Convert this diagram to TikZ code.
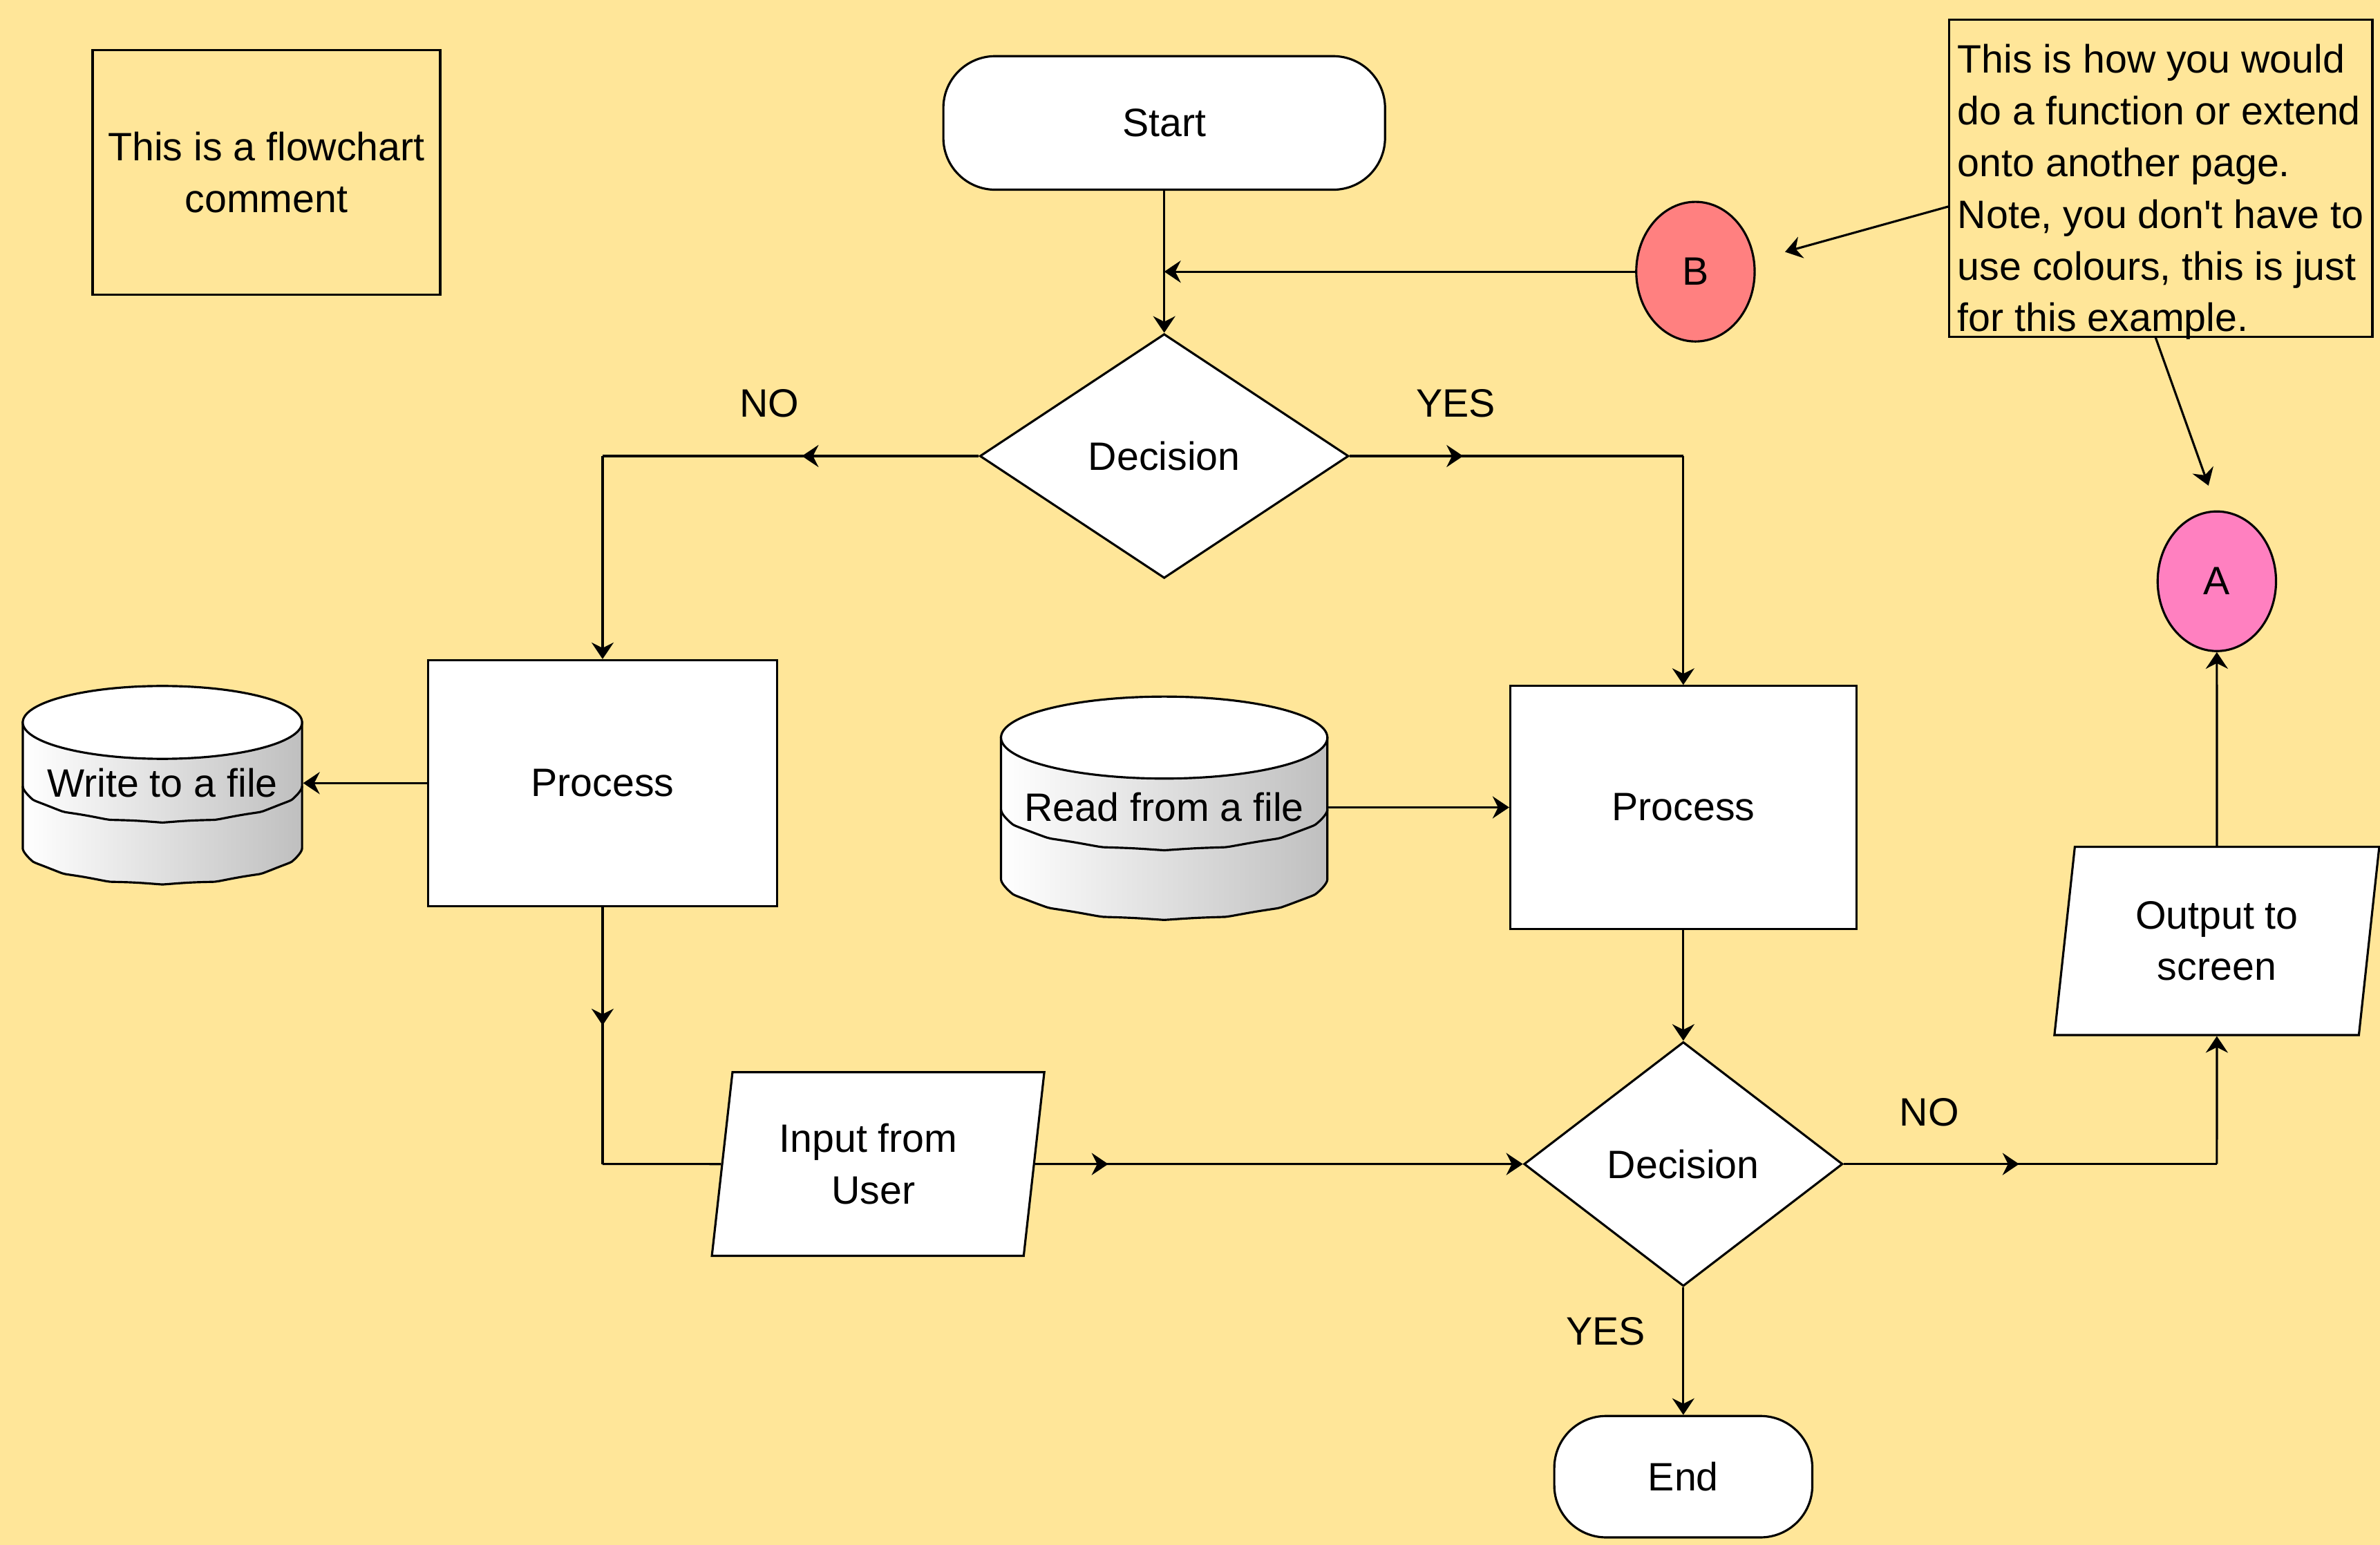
\documentclass[tikz,border=0pt]{standalone}
\usepackage{fontspec}
\setmainfont{Liberation Sans}
\usetikzlibrary{shapes.geometric, arrows.meta, decorations.markings}

\definecolor{paper}{RGB}{255,230,153}
\definecolor{linkB}{RGB}{255,128,128}
\definecolor{linkA}{RGB}{255,128,192}

\newcommand\pxu{0.2196mm}

% a disk store: centre x, centre y of the lid, half width, lid depth
\newcommand\diskstore[4]{%
  \begin{scope}[shift={(#1,#2)}, line width=0.9pt]
    \shade[left color=white, right color=black!25, draw]
      (-#3,0) -- plot[domain=0:180, samples=91]
        ({-#3*cos(\x)}, {3.45*#4 + #4*sin(\x) - 0.8*abs(sin(8*\x))})
      -- (#3,0) -- cycle;
    \draw[fill=white] (0,0) ellipse [x radius=#3, y radius=#4];
    \draw plot[domain=0:180, samples=91]
      ({-#3*cos(\x)}, {1.75*#4 + #4*sin(\x) - 0.8*abs(sin(8*\x))});
  \end{scope}}

\tikzset{
  >={Stealth[length=2.4mm, width=3.2mm, inset=0.8mm]},
  base/.style={font=\fontsize{16.3}{21.3}\selectfont, line width=0.9pt},
  boxsize/.style 2 args={minimum width=#1*\pxu, minimum height=#2*\pxu},
  terminal/.style={base, draw, fill=white, rounded corners=7.5mm},
  process/.style={base, draw, fill=white},
  decision/.style={base, draw, fill=white, diamond, aspect=1.5, inner sep=0pt},
  io/.style={base, draw, fill=white, trapezium, trapezium left angle=78,
    trapezium right angle=102, trapezium stretches body, align=center},
  connector/.style={base, draw, ellipse, inner sep=0pt},
  comment/.style={base, draw, align=center},
  disktext/.style={base, inner sep=0pt},
  tag/.style={base},
  wire/.style={line width=0.9pt},
  flow/.style={wire, ->},
  midarrow/.style={postaction={decorate},
    decoration={markings, mark=at position #1 with {\arrow{>}}}}
}

\begin{document}
\begin{tikzpicture}[x=0.2196mm, y=-0.2196mm]

\useasboundingbox[fill=paper] (0,0) rectangle (1568,1018);

% comments
\node[comment, boxsize={229}{161}] (remark) at (175.5,113.5) {This is a flowchart\\comment};
\node[base, draw, inner ysep=0pt, boxsize={279}{209}] (note) at (1423.5,117.5)
  {\raisebox{-5.6pt}[\height][\depth]{\begin{tabular}{@{}l@{}}
    This is how you would\\do a function or extend\\onto another page.\\
    Note, you don\textquotesingle t have to\\use colours, this is just\\for this example.
  \end{tabular}}};

% the flow
\node[terminal, boxsize={291}{88}] (start) at (767,81) {Start};
\node[decision, boxsize={243}{161}] (d1) at (767,300.5) {Decision};
\node[connector, fill=linkB, boxsize={78}{92}] (B) at (1117,179) {B};
\node[process, boxsize={230}{162}] (p1) at (397,516) {Process};
\node[process, boxsize={228}{160}] (p2) at (1109,532) {Process};
\node[io, boxsize={219}{121}] (inp) at (578.5,767) {Input from\hspace*{8pt}\\User\hspace*{4pt}};
\node[decision, aspect=1.3, boxsize={210}{161}] (d2) at (1109,767) {Decision};
\node[terminal, boxsize={170}{80}] (stop) at (1109,973) {End};
\node[io, boxsize={214}{124}] (out) at (1460.5,620) {Output to\\screen};
\node[connector, fill=linkA, boxsize={78}{92}] (A) at (1460.5,383) {A};

% the two files
\diskstore{107}{476}{92}{24}
\node[disktext, boxsize={184}{30}] (wr) at (107,516) {Write to a file};
\diskstore{767}{486}{107.5}{27}
\node[disktext, boxsize={215}{30}] (rd) at (767,532) {Read from a file};

% branch labels
\node[tag] (no1) at (507,266) {NO};
\node[tag] (yes1) at (959,266) {YES};
\node[tag] (no2) at (1271,733) {NO};
\node[tag] (yes2) at (1058,877) {YES};

% connectors
\coordinate (noL) at (p1 |- d1);
\coordinate (yesR) at (p2 |- d1);
\coordinate (inL) at (p1 |- inp);
\coordinate (outL) at (out |- d2);
\coordinate (fromB) at (1284,136);
\coordinate (toB) at (1176,166);
\coordinate (fromA) at (1420,222);
\coordinate (toA) at (1455,320);

\draw[flow] (start) -- (d1);
\draw[flow] (B) -- (B -| start);
\draw[wire, midarrow=0.47] (d1.west) -- (noL);
\draw[flow] (noL) -- (p1);
\draw[wire, midarrow=0.34] (d1.east) -- (yesR);
\draw[flow] (yesR) -- (p2);
\draw[flow] (p1) -- (wr.east);
\draw[flow] (rd.east) -- (p2);
\draw[wire, midarrow=0.46] (p1) -- (inL);
\draw[wire] (inL) -- (inp);
\draw[flow, midarrow=0.15] (inp) -- (d2);
\draw[flow] (p2) -- (d2);
\draw[flow] (d2) -- (stop);
\draw[wire, midarrow=0.47] (d2) -- (outL);
\draw[flow] (outL) -- (out);
\draw[flow] (out) -- (A);
\draw[flow] (fromB) -- (toB);
\draw[flow] (fromA) -- (toA);

\end{tikzpicture}
\end{document}
